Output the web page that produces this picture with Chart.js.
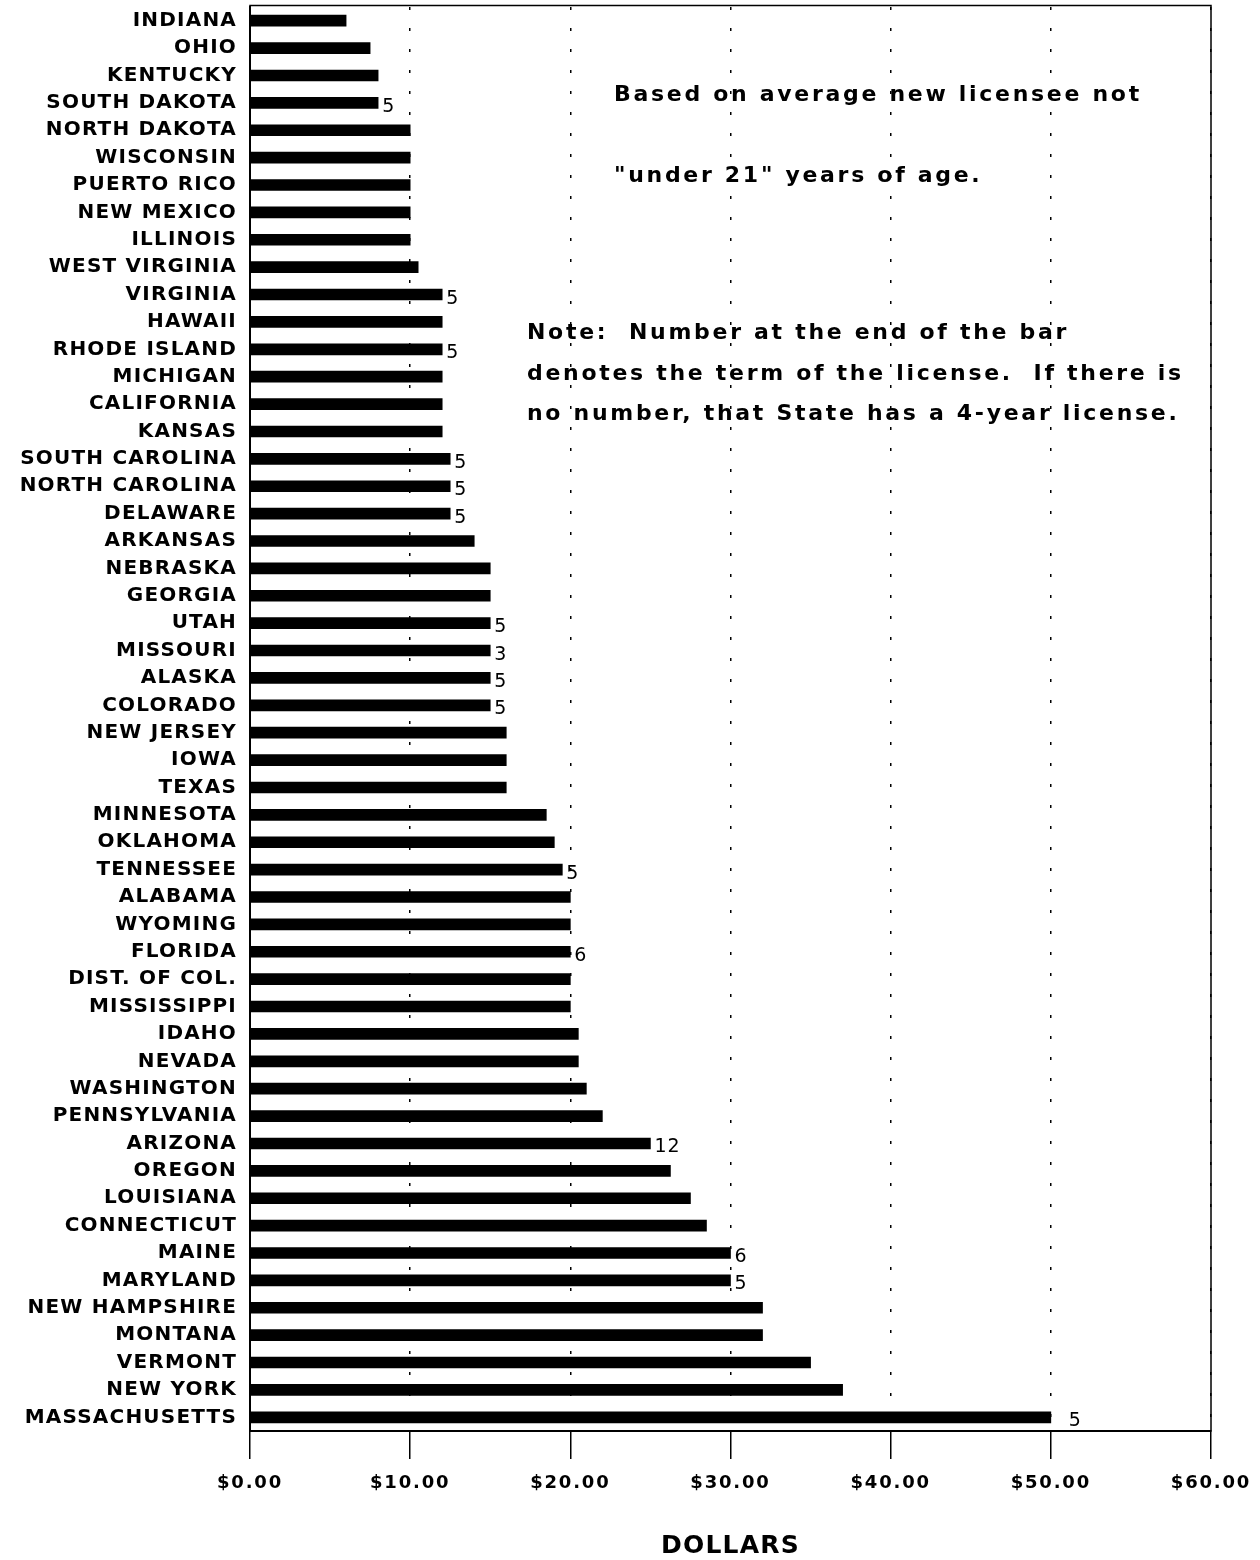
<!DOCTYPE html>
<html>
<head>
<meta charset="utf-8">
<script src="https://cdn.jsdelivr.net/npm/chart.js@4/dist/chart.umd.min.js"></script>
<style>
    body { margin: 0; background: #fff; }
    #wrap { width: 1260px; height: 1560px; position: relative; }
</style>
</head>
<body>
<div id="wrap"><canvas id="feeChart"></canvas></div>
<script>
// States, top to bottom as printed
const states = [
    'INDIANA', 'OHIO', 'KENTUCKY', 'SOUTH DAKOTA', 'NORTH DAKOTA', 'WISCONSIN',
    'PUERTO RICO', 'NEW MEXICO', 'ILLINOIS', 'WEST VIRGINIA', 'VIRGINIA', 'HAWAII',
    'RHODE ISLAND', 'MICHIGAN', 'CALIFORNIA', 'KANSAS', 'SOUTH CAROLINA',
    'NORTH CAROLINA', 'DELAWARE', 'ARKANSAS', 'NEBRASKA', 'GEORGIA', 'UTAH',
    'MISSOURI', 'ALASKA', 'COLORADO', 'NEW JERSEY', 'IOWA', 'TEXAS', 'MINNESOTA',
    'OKLAHOMA', 'TENNESSEE', 'ALABAMA', 'WYOMING', 'FLORIDA', 'DIST. OF COL.',
    'MISSISSIPPI', 'IDAHO', 'NEVADA', 'WASHINGTON', 'PENNSYLVANIA', 'ARIZONA',
    'OREGON', 'LOUISIANA', 'CONNECTICUT', 'MAINE', 'MARYLAND', 'NEW HAMPSHIRE',
    'MONTANA', 'VERMONT', 'NEW YORK', 'MASSACHUSETTS'
];

// License fee in dollars
const fees = [
    6, 7.5, 8, 8, 10, 10,
    10, 10, 10, 10.5, 12, 12,
    12, 12, 12, 12, 12.5,
    12.5, 12.5, 14, 15, 15, 15,
    15, 15, 15, 16, 16, 16, 18.5,
    19, 19.5, 20, 20, 20, 20,
    20, 20.5, 20.5, 21, 22, 25,
    26.25, 27.5, 28.5, 30, 30, 32,
    32, 35, 37, 50
];

// License term in years ('' = 4-year license)
const terms = [
    '', '', '', '5', '', '',
    '', '', '', '', '5', '',
    '5', '', '', '', '5',
    '5', '5', '', '', '', '5',
    '3', '5', '5', '', '', '', '',
    '', '5', '', '', '6', '',
    '', '', '', '', '', '12',
    '', '', '', '6', '5', '',
    '', '', '', '5'
];

const xTicks = [0, 10, 20, 30, 40, 50, 60];

const noteLines = [
    'Based on average new licensee not',
    '"under 21" years of age.'
];
const termNoteLines = [
    'Note:  Number at the end of the bar',
    'denotes the term of the license.  If there is',
    'no number, that State has a 4-year license.'
];

const FONT = "'DejaVu Sans', 'Liberation Sans', Arial, sans-serif";

Chart.defaults.color = '#000';
Chart.defaults.font.family = FONT;

// canvas letterSpacing is not a Chart.js option, so switch it around the layers
const spacingPlugin = {
    id: 'spacing',
    beforeDraw(chart) {
        chart.ctx.letterSpacing = '1.2px';   // state names (y ticks, z 0)
    },
    afterDatasetsDraw(chart) {
        chart.ctx.letterSpacing = '1.8px';   // dollar ticks and title (x ticks, z 1)
    },
    afterDraw(chart) {
        const ctx = chart.ctx;
        const area = chart.chartArea;

        // frame round the plot, top edge sits a little above the first row
        ctx.save();
        ctx.letterSpacing = '0px';
        ctx.strokeStyle = '#000';
        ctx.lineWidth = 1.5;
        ctx.strokeRect(area.left, area.top - 1.5, area.right - area.left, area.bottom - area.top + 1.5);
        ctx.restore();

        // term numbers at the bar ends
        const meta = chart.getDatasetMeta(0);
        ctx.save();
        ctx.letterSpacing = '1px';
        ctx.font = '19px ' + FONT;
        ctx.fillStyle = '#000';
        ctx.textAlign = 'left';
        ctx.textBaseline = 'alphabetic';
        meta.data.forEach((bar, i) => {
            if (!terms[i]) return;
            // the last one sits clear of the $50 gridline in the original
            const gap = i === states.length - 1 ? 18 : 4;
            ctx.fillText(terms[i], bar.x + gap, bar.y + 9);
        });
        ctx.restore();

        // notes
        ctx.save();
        ctx.font = 'bold 22px ' + FONT;
        ctx.letterSpacing = '2.7px';
        ctx.fillStyle = '#000';
        ctx.textAlign = 'left';
        ctx.textBaseline = 'alphabetic';
        noteLines.forEach((line, i) => ctx.fillText(line, 614, 101 + i * 81));
        termNoteLines.forEach((line, i) => ctx.fillText(line, 527, 339 + i * 40.5));
        ctx.restore();

        ctx.letterSpacing = '0px';
    }
};

new Chart(document.getElementById('feeChart'), {
    type: 'bar',
    data: {
        labels: states,
        datasets: [{
            data: fees,
            backgroundColor: '#000',
            borderWidth: 0,
            barThickness: 11
        }]
    },
    options: {
        indexAxis: 'y',
        responsive: true,
        maintainAspectRatio: false,
        animation: false,
        layout: {
            padding: { left: 0, right: 49, top: 7, bottom: 0 }
        },
        plugins: {
            legend: { display: false },
            tooltip: { enabled: false }
        },
        scales: {
            x: {
                min: 0,
                max: 60,
                afterBuildTicks: scale => {
                    scale.ticks = xTicks.map(v => ({ value: v }));
                },
                afterFit: scale => {
                    scale.height = 129;
                    scale.paddingLeft = 0;
                    scale.paddingRight = 0;
                },
                grid: {
                    color: '#000',
                    lineWidth: 1.5,
                    drawTicks: true,
                    tickLength: 28,
                    tickWidth: 1.5,
                    tickColor: '#000',
                    tickBorderDash: []
                },
                border: {
                    display: true,
                    color: '#000',
                    width: 2,
                    dash: [3, 18]
                },
                ticks: {
                    z: 1,
                    padding: 14,
                    maxRotation: 0,
                    autoSkip: false,
                    font: { size: 18, weight: 'bold' },
                    callback: value => '$' + Number(value).toFixed(2)
                },
                title: {
                    display: true,
                    text: 'DOLLARS',
                    font: { size: 25, weight: 'bold', lineHeight: 1 },
                    padding: { top: 0, bottom: 1 }
                }
            },
            y: {
                afterFit: scale => {
                    scale.width = 250;
                    scale.paddingTop = 0;
                    scale.paddingBottom = 0;
                },
                grid: {
                    display: false,
                    drawTicks: false
                },
                border: {
                    display: true,
                    color: '#000',
                    width: 2
                },
                ticks: {
                    padding: 13,
                    autoSkip: false,
                    font: { size: 20, weight: 'bold' }
                }
            }
        }
    },
    plugins: [spacingPlugin]
});
</script>
</body>
</html>
